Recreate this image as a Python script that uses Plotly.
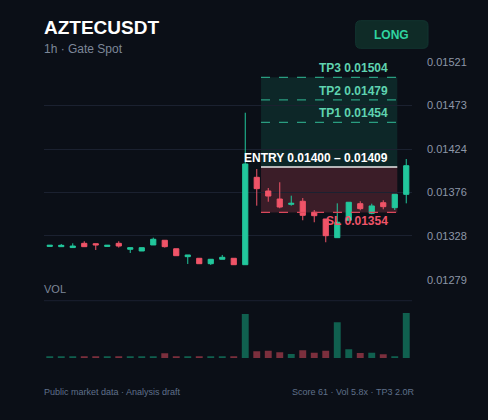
import plotly.graph_objects as go

# 1h candles, oldest first (bar index on x)
opens = [0.013163, 0.013160, 0.013150, 0.013197, 0.013193, 0.013163, 0.013197, 0.013131,
         0.013112, 0.013179, 0.013231, 0.013137, 0.013049, 0.013031, 0.012971, 0.013020,
         0.013031, 0.012960, 0.013930, 0.013778, 0.013689, 0.013630, 0.013664, 0.013542,
         0.013467, 0.013260, 0.013453, 0.013637, 0.013530, 0.013648, 0.013593, 0.013741]
highs = [0.013176, 0.013190, 0.013197, 0.013220, 0.013193, 0.013176, 0.013220, 0.013149,
         0.013149, 0.013260, 0.013231, 0.013137, 0.013068, 0.013031, 0.013020, 0.013068,
         0.013031, 0.014647, 0.014022, 0.013811, 0.013875, 0.013726, 0.013700, 0.013567,
         0.013467, 0.013641, 0.013653, 0.013664, 0.013637, 0.013675, 0.013741, 0.014133]
lows = [0.013163, 0.013160, 0.013150, 0.013160, 0.013123, 0.013163, 0.013150, 0.013090,
        0.013112, 0.013179, 0.013150, 0.013060, 0.012968, 0.012971, 0.012957, 0.013020,
        0.012960, 0.012960, 0.013615, 0.013659, 0.013586, 0.013615, 0.013453, 0.013431,
        0.013209, 0.013260, 0.013453, 0.013564, 0.013520, 0.013575, 0.013567, 0.013641]
closes = [0.013176, 0.013175, 0.013167, 0.013160, 0.013179, 0.013176, 0.013167, 0.013149,
          0.013149, 0.013242, 0.013160, 0.013060, 0.013068, 0.012971, 0.013020, 0.013042,
          0.012960, 0.014078, 0.013804, 0.013722, 0.013600, 0.013641, 0.013508, 0.013504,
          0.013282, 0.013431, 0.013653, 0.013582, 0.013612, 0.013604, 0.013741, 0.014059]
volumes = [5, 5, 5, 5, 5, 5, 5, 5, 5, 5, 14, 5, 5, 5, 5, 5,
           5, 132, 20, 22, 17, 12, 23, 16, 22, 107, 26, 15, 16, 11, 5, 135]
bars = list(range(len(opens)))

# trade plan levels
tp_levels = [0.01504, 0.01479, 0.01454]
tp_names = ["TP3", "TP2", "TP1"]
entry_low = 0.01400
entry_high = 0.01409
stop_loss = 0.01354
plan_start = 18.37   # bar index where the plan box begins
plan_end = 30.22
label_x = 29.6

# right axis labels
tick_labels = ["0.01521", "0.01473", "0.01424", "0.01376", "0.01328", "0.01279"]
price_range = [0.01279, 0.01521]
vol_range = [0, 172]

# colours
bg = "#0b0f17"
grid = "#1b2130"
up = "#22c79c"
down = "#f05468"
up_vol = "#10604f"
down_vol = "#7b2f3d"
font_family = "Liberation Sans, Arial, sans-serif"

# pixel helpers for paper placement (plot area 44..412 x 62..358)
W, H = 368, 296
def py(y_px):
    return (358 - y_px) / H
def px(x_px):
    return (x_px - 44) / W

fig = go.Figure()
fig.add_trace(go.Candlestick(
    x=bars, open=opens, high=highs, low=lows, close=closes,
    increasing=dict(line=dict(color=up, width=1), fillcolor=up),
    decreasing=dict(line=dict(color=down, width=1), fillcolor=down),
    whiskerwidth=0, showlegend=False, hoverinfo="skip",
))
fig.add_trace(go.Bar(
    x=bars, y=volumes, yaxis="y2", width=0.6,
    marker=dict(color=[up_vol if c >= o else down_vol for o, c in zip(opens, closes)], line_width=0),
    showlegend=False, hoverinfo="skip",
))

entry_mid = (entry_low + entry_high) / 2
shapes = []
# reward / risk zones
shapes.append(dict(type="rect", xref="x", yref="y", x0=plan_start, x1=plan_end, y0=entry_mid, y1=tp_levels[0],
                   fillcolor="rgba(34,199,156,0.13)", line_width=0, layer="below"))
shapes.append(dict(type="rect", xref="x", yref="y", x0=plan_start, x1=plan_end, y0=stop_loss, y1=entry_mid,
                   fillcolor="rgba(240,84,104,0.21)", line_width=0, layer="below"))
for lv in tp_levels:
    shapes.append(dict(type="line", xref="x", yref="y", x0=plan_start, x1=plan_end, y0=lv, y1=lv,
                       line=dict(color="#2a9d80", width=1.2, dash="dash")))
shapes.append(dict(type="line", xref="x", yref="y", x0=plan_start, x1=plan_end, y0=stop_loss, y1=stop_loss,
                   line=dict(color="#d9485b", width=1.2, dash="dash")))
shapes.append(dict(type="line", xref="x", yref="y", x0=plan_start, x1=plan_end, y0=entry_mid, y1=entry_mid,
                   line=dict(color="#e8e8e8", width=1.6)))
# volume panel top line
shapes.append(dict(type="line", xref="paper", yref="paper", x0=0, x1=1, y0=py(300.7), y1=py(300.7),
                   line=dict(color=grid, width=1)))
# LONG badge with rounded corners
x0, x1, y0, y1 = px(355.7), px(428), py(48.3), py(20.7)
rx, ry = 5 / W, 5 / H
path = (f"M{x0+rx},{y0} L{x1-rx},{y0} Q{x1},{y0} {x1},{y0+ry} L{x1},{y1-ry} Q{x1},{y1} {x1-rx},{y1} "
        f"L{x0+rx},{y1} Q{x0},{y1} {x0},{y1-ry} L{x0},{y0+ry} Q{x0},{y0} {x0+rx},{y0} Z")
shapes.append(dict(type="path", xref="paper", yref="paper", path=path,
                   fillcolor="#0f2b27", line=dict(color="#123530", width=1)))

annotations = []
for name, lv in zip(tp_names, tp_levels):
    annotations.append(dict(x=label_x, y=lv, xref="x", yref="y", xanchor="right", yanchor="bottom",
                            text=f"<b>{name} {lv:.5f}</b>", showarrow=False,
                            font=dict(size=12, color="#5fd3b0", family=font_family)))
annotations.append(dict(x=label_x, y=entry_mid, xref="x", yref="y", xanchor="right", yanchor="bottom",
                        text=f"<b>ENTRY {entry_low:.5f} – {entry_high:.5f}</b>", showarrow=False,
                        font=dict(size=12, color="#ffffff", family=font_family)))
annotations.append(dict(x=label_x, y=stop_loss, xref="x", yref="y", xanchor="right", yanchor="top",
                        text=f"<b>SL {stop_loss:.5f}</b>", showarrow=False,
                        font=dict(size=12, color="#f05468", family=font_family)))
# header, panel label and footer
annotations.append(dict(x=0, y=py(27), xref="paper", yref="paper", xanchor="left", yanchor="middle",
                        text="<b>AZTECUSDT</b>", showarrow=False, xshift=-2,
                        font=dict(size=19, color="#ffffff", family=font_family)))
annotations.append(dict(x=0, y=py(48.5), xref="paper", yref="paper", xanchor="left", yanchor="middle",
                        text="1h · Gate Spot", showarrow=False, xshift=-2,
                        font=dict(size=12, color="#7d8799", family=font_family)))
annotations.append(dict(x=(x0 + x1) / 2, y=(y0 + y1) / 2, xref="paper", yref="paper",
                        xanchor="center", yanchor="middle",
                        text="<b>LONG</b>", showarrow=False,
                        font=dict(size=12, color="#2fd4a0", family=font_family)))
annotations.append(dict(x=0, y=py(289), xref="paper", yref="paper", xanchor="left", yanchor="middle",
                        text="VOL", showarrow=False, xshift=-2,
                        font=dict(size=11, color="#7d8799", family=font_family)))
annotations.append(dict(x=0, y=py(391.7), xref="paper", yref="paper", xanchor="left", yanchor="middle",
                        text="Public market data · Analysis draft", showarrow=False, xshift=-2,
                        font=dict(size=9, color="#5f6f8a", family=font_family)))
annotations.append(dict(x=px(415.7), y=py(391.7), xref="paper", yref="paper", xanchor="right", yanchor="middle",
                        text="Score 61 · Vol 5.8x · TP3 2.0R", showarrow=False,
                        font=dict(size=9, color="#5f6f8a", family=font_family)))

fig.update_layout(
    width=488, height=420,
    margin=dict(l=44, r=76, t=62, b=62),
    paper_bgcolor=bg, plot_bgcolor=bg,
    font=dict(family=font_family, color="#8d97a8"),
    boxgap=0.36,
    xaxis=dict(range=[-0.5, 31.5], showgrid=False, showticklabels=False, zeroline=False,
               rangeslider=dict(visible=False), fixedrange=True),
    yaxis=dict(domain=[py(280), 1], range=price_range, side="right",
               tickvals=[float(t) for t in tick_labels], ticktext=tick_labels,
               gridcolor=grid, gridwidth=1, zeroline=False, ticklabelstandoff=14,
               tickfont=dict(size=11, color="#8d97a8")),
    yaxis2=dict(domain=[0, py(300.7)], range=vol_range, showgrid=False, showticklabels=False,
                zeroline=False),
    shapes=shapes,
    annotations=annotations,
)

# page has a default body margin; drop it so the chart fills the window
fig.write_html("out.html", config={"displayModeBar": False},
               post_script="document.body.style.margin='0';document.body.style.background='#0b0f17';")
